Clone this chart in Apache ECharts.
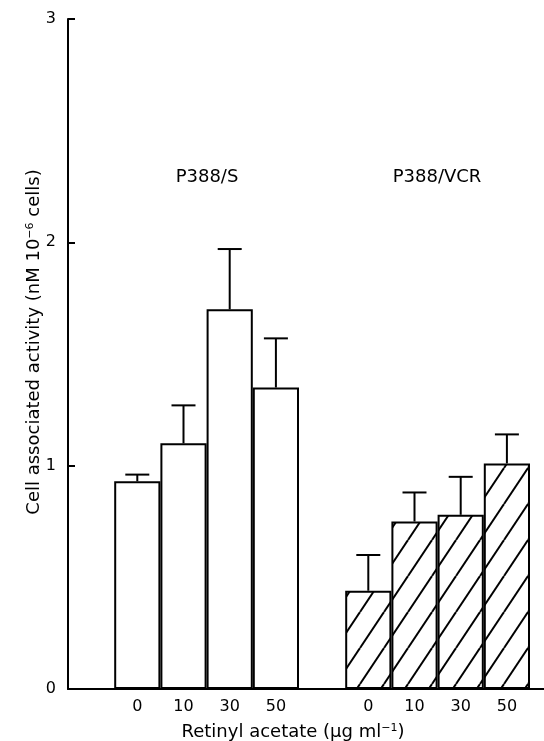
<!DOCTYPE html>
<html>
<head>
<meta charset="utf-8">
<script src="https://cdn.jsdelivr.net/npm/echarts@6/dist/echarts.min.js"></script>
<style>
  html, body { margin: 0; padding: 0; background: #fff; }
  #chart { width: 544px; height: 741px; }
</style>
</head>
<body>
<div id="chart"></div>
<script>
// categories: empty slots separate the two cell lines
const categories = ['', '0', '10', '30', '50', '', '0', '10', '30', '50'];
// P388/S (open bars)
const sensValues = [null, 0.93, 1.10, 1.70, 1.35, null, null, null, null, null];
const sensErrTop = [null, 0.96, 1.27, 1.97, 1.57, null, null, null, null, null];
// P388/VCR (hatched bars)
const vcrValues = [null, null, null, null, null, null, 0.44, 0.75, 0.78, 1.01];
const vcrErrTop = [null, null, null, null, null, null, 0.60, 0.88, 0.95, 1.14];
const yTicks = [0, 1, 2, 3];

const FONT = '"DejaVu Sans", "Liberation Sans", sans-serif';

// diagonal hatch tile
const makeHatch = () => {
    const w = 24, h = 36;
    const c = document.createElement('canvas');
    c.width = w; c.height = h;
    const ctx = c.getContext('2d');
    ctx.fillStyle = '#fff';
    ctx.fillRect(0, 0, w, h);
    ctx.strokeStyle = '#000';
    ctx.lineWidth = 2;
    [-w, 0, w].forEach(dx => {
        ctx.beginPath();
        ctx.moveTo(dx, h);
        ctx.lineTo(dx + w, 0);
        ctx.stroke();
    });
    return c;
};

const errData = [];
categories.forEach((c, i) => {
    if (sensValues[i] != null) errData.push([i, sensValues[i], sensErrTop[i]]);
    if (vcrValues[i] != null) errData.push([i, vcrValues[i], vcrErrTop[i]]);
});

const chart = echarts.init(document.getElementById('chart'));

const option = {
    backgroundColor: '#fff',
    animation: false,
    grid: [
        { left: 68, right: 14, top: 19, bottom: 52, containLabel: false, outerBoundsMode: 'none' },
        // second grid only carries the baseline out to the right edge
        { left: 68, right: 0, top: 19, bottom: 52, containLabel: false, outerBoundsMode: 'none' }
    ],
    xAxis: [
        {
            type: 'category',
            gridIndex: 0,
            data: categories,
            axisLine: { show: false },
            axisTick: { show: false },
            axisLabel: { color: '#000', fontSize: 16, fontFamily: FONT, margin: 10, interval: 0 },
            name: 'Retinyl acetate (μg ml{sup|−1})',
            nameLocation: 'middle',
            nameGap: 34,
            nameTextStyle: {
                color: '#000', fontSize: 18, fontFamily: FONT, padding: [0, 12, 0, 0],
                rich: { sup: { fontSize: 11, padding: [0, 0, 8, 0], color: '#000', fontFamily: FONT } }
            }
        },
        {
            type: 'value',
            gridIndex: 1,
            min: 0,
            max: 1,
            axisLine: { show: true, onZero: false, lineStyle: { color: '#000', width: 2 } },
            axisTick: { show: false },
            axisLabel: { show: false },
            splitLine: { show: false }
        }
    ],
    yAxis: [
        {
            type: 'value',
            gridIndex: 0,
            min: yTicks[0],
            max: yTicks[yTicks.length - 1],
            interval: 1,
            splitLine: { show: false },
            axisLine: { show: true, lineStyle: { color: '#000', width: 2 } },
            axisTick: { show: true, inside: true, length: 7, lineStyle: { color: '#000', width: 2 } },
            axisLabel: { color: '#000', fontSize: 16, fontFamily: FONT, margin: 12 },
            name: 'Cell associated activity (nM 10{sup|−6} cells)',
            nameLocation: 'middle',
            nameGap: 24,
            nameMoveOverlap: false,
            nameRotate: 90,
            nameTextStyle: {
                color: '#000', fontSize: 18, fontFamily: FONT, padding: [0, 0, 0, 24],
                rich: { sup: { fontSize: 11, padding: [0, 0, 8, 0], color: '#000', fontFamily: FONT } }
            }
        },
        {
            type: 'value',
            gridIndex: 1,
            min: 0,
            max: 1,
            show: false
        }
    ],
    graphic: [
        { type: 'text', x: 207, y: 177, style: { text: 'P388/S', font: '18px ' + FONT, fill: '#000', align: 'center', verticalAlign: 'middle' } },
        { type: 'text', x: 437, y: 177, style: { text: 'P388/VCR', font: '18px ' + FONT, fill: '#000', align: 'center', verticalAlign: 'middle' } }
    ],
    series: [
        {
            type: 'bar',
            data: sensValues,
            barWidth: '100%',
            barGap: '-100%',
            barCategoryGap: 0,
            itemStyle: { color: '#fff', borderColor: '#000', borderWidth: 2 }
        },
        {
            type: 'bar',
            data: vcrValues,
            barWidth: '100%',
            barGap: '-100%',
            barCategoryGap: 0,
            itemStyle: { color: { image: makeHatch(), repeat: 'repeat' }, borderColor: '#000', borderWidth: 2 }
        },
        {
            type: 'custom',
            data: errData,
            z: 5,
            renderItem: (params, api) => {
                const base = api.coord([api.value(0), api.value(1)]);
                const top = api.coord([api.value(0), api.value(2)]);
                const half = 12;
                return {
                    type: 'group',
                    children: [
                        { type: 'line', shape: { x1: base[0], y1: base[1], x2: top[0], y2: top[1] }, style: { stroke: '#000', lineWidth: 2 } },
                        { type: 'line', shape: { x1: top[0] - half, y1: top[1], x2: top[0] + half, y2: top[1] }, style: { stroke: '#000', lineWidth: 2 } }
                    ]
                };
            }
        }
    ]
};

chart.setOption(option);
</script>
</body>
</html>
